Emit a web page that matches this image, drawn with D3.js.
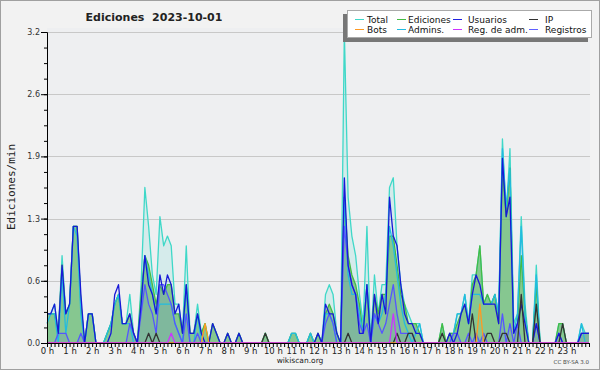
<!DOCTYPE html>
<html>
<head>
<meta charset="utf-8">
<script src="https://cdn.jsdelivr.net/npm/d3@7"></script>
<style>
  body { margin: 0; background: #f2f2f2; }
  text { font-family: "DejaVu Sans", sans-serif; fill: #222; }
</style>
</head>
<body>
<div id="chart"></div>
<script>
// edits per minute, one value per 10 minutes (00:00 .. 24:00)
var total = [
  0.3,0.3,0.4,0.1,0.9,0.3,0.4,1.2,1.2,0.4,0,0.3,
  0.3,0,0,0,0.1,0.2,0.4,0.5,0.2,0.2,0.5,0.1,
  0,0.6,1.6,1.2,0.7,0.5,1.3,1.0,1.1,1.0,0.4,0.4,
  0.1,1.0,0.1,0.1,0.4,0.1,0.2,0,0.2,0.1,0,0,
  0.1,0,0,0.1,0,0,0,0,0,0,0.1,0,
  0,0,0,0,0,0.1,0.1,0,0,0,0.1,0,
  0.1,0,0.5,0.6,0.5,0.1,0,3.2,1.5,1.1,0.9,0.5,
  0.2,1.2,0,0.7,0.3,0.6,0.6,1.6,1.7,1.0,0.6,0.4,
  0.3,0.2,0.2,0.2,0,0,0,0,0,0.2,0,0.1,
  0.1,0.3,0.3,0.5,0.2,0.7,0.7,1.0,0.4,0.5,0.4,0.5,
  0.3,2.1,1.3,2.0,0.2,0.3,1.3,0.4,0,0,0.8,0,
  0,0,0,0,0.2,0.2,0,0,0,0,0.2,0.1,
  0.1
];
var ediciones = [
  0.3,0.3,0.3,0.1,0.8,0.3,0.4,1.2,1.2,0.4,0,0.3,
  0.3,0,0,0,0.1,0.2,0.4,0.5,0.2,0.2,0.3,0.1,
  0,0.5,0.9,0.8,0.6,0.4,0.6,0.5,0.6,0.6,0.3,0.3,
  0.1,0.6,0.1,0.1,0.3,0.1,0.2,0,0.2,0.1,0,0,
  0.1,0,0,0.1,0,0,0,0,0,0,0.1,0,
  0,0,0,0,0,0.1,0.1,0,0,0,0.1,0,
  0.1,0,0.3,0.4,0.3,0.1,0,1.5,0.9,0.7,0.6,0.4,
  0.1,0.6,0,0.5,0.3,0.5,0.5,1.1,1.1,0.8,0.5,0.4,
  0.2,0.2,0.2,0.1,0,0,0,0,0,0.2,0,0.1,
  0.1,0.2,0.3,0.4,0.2,0.6,0.7,1.0,0.4,0.5,0.4,0.5,
  0.2,1.8,1.3,1.8,0.1,0.2,0.9,0.3,0,0,0.6,0,
  0,0,0,0,0.2,0.2,0,0,0,0,0.1,0.1,
  0.1
];
var usuarios = [
  0.3,0.3,0.4,0.1,0.8,0.3,0.4,1.2,1.2,0.5,0,0.3,
  0.3,0,0,0,0,0.1,0.5,0.6,0.2,0.2,0.3,0.1,
  0,0.4,0.9,0.6,0.5,0.3,0.7,0.5,0.7,0.6,0.3,0.4,
  0.1,0.6,0.1,0.1,0.3,0.1,0,0,0.2,0.1,0,0,
  0.1,0,0,0.1,0,0,0,0,0,0,0,0,
  0,0,0,0,0,0,0,0,0,0,0,0,
  0.1,0,0.4,0.3,0.3,0.1,0,1.7,0.8,0.6,0.5,0.1,
  0.1,0.6,0,0.5,0.2,0.5,0.3,1.5,1.1,1.0,0.6,0.3,
  0.2,0.2,0.1,0.1,0,0,0,0,0,0,0,0.1,
  0,0.1,0.3,0.4,0.2,0.5,0.7,0.6,0.4,0.4,0.4,0.4,
  0.2,1.9,1.3,1.5,0.1,0.2,0.4,0.2,0,0,0.2,0,
  0,0,0,0,0.1,0,0,0,0,0,0.1,0.1,
  0.1
];
var admins = [
  0.2,0.3,0.3,0,0.7,0.1,0.4,1.2,1.1,0.3,0,0.3,
  0.3,0,0,0,0.1,0.2,0.4,0.5,0.2,0.2,0.2,0,
  0,0.4,0.9,0.7,0.5,0.3,0.4,0.4,0.4,0.4,0.2,0.1,
  0,0.6,0,0,0.3,0,0,0,0,0,0,0,
  0,0,0,0,0,0,0,0,0,0,0,0,
  0,0,0,0,0,0.1,0.1,0,0,0,0.1,0,
  0,0,0.3,0.3,0.2,0,0,1.5,0.7,0.5,0.5,0.3,
  0.1,0.6,0,0.3,0.2,0.3,0.5,1.2,1.0,0.7,0.4,0.2,
  0.1,0,0.1,0.2,0,0,0,0,0,0,0,0,
  0.1,0.3,0.3,0.5,0.2,0.5,0.5,0.5,0.4,0.4,0.4,0.5,
  0.3,2.0,1.4,1.8,0.1,0.3,1.2,0.3,0,0,0.7,0,
  0,0,0,0,0,0,0,0,0,0,0.2,0,
  0
];
var registros = [
  0,0,0,0.1,0.1,0.1,0,0,0,0.1,0,0,
  0,0,0,0,0,0,0,0,0,0,0.2,0.1,
  0,0.3,0.6,0.4,0.3,0.1,0.6,0.6,0.5,0.4,0.2,0.1,
  0,0.3,0,0,0.1,0,0,0,0,0,0,0,
  0,0,0,0,0,0,0,0,0,0,0,0,
  0,0,0,0,0,0,0,0,0,0,0,0,
  0,0,0.2,0.3,0.2,0,0,1.2,0.8,0.6,0.5,0.2,
  0.1,0.2,0,0.3,0.2,0.1,0.2,0.4,0.6,0.3,0.1,0.1,
  0.1,0.1,0,0,0,0,0,0,0,0,0,0,
  0.1,0.1,0,0,0.1,0,0.1,0,0.1,0,0,0,
  0,0.3,0,0.2,0,0.2,0,0,0,0,0.2,0,
  0,0,0,0,0.1,0,0,0,0,0,0.1,0.1,
  0.1
];
var ip = [
  0,0,0,0,0,0,0,0,0,0,0,0,
  0,0,0,0,0,0,0,0,0,0,0,0,
  0,0,0,0.1,0,0.1,0,0,0,0,0,0,
  0,0,0,0,0,0,0,0,0,0,0,0,
  0,0,0,0,0,0,0,0,0,0,0.1,0,
  0,0,0,0,0,0,0,0,0,0,0,0,
  0,0,0,0,0,0,0,0,0.1,0,0,0,
  0,0,0,0,0,0,0,0,0,0.1,0,0,
  0.1,0.1,0,0,0,0,0,0,0,0.1,0,0,
  0,0,0,0,0,0.3,0,0,0,0.1,0.1,0,
  0,0.1,0.1,0,0,0,0.5,0,0,0,0.4,0,
  0,0,0,0,0,0.2,0,0,0,0,0,0,
  0
];
var bots = d3.range(145).map(function() { return 0; });
bots[42] = 0.2; bots[115] = 0.4;
var regAdm = d3.range(145).map(function() { return 0; });
regAdm[33] = 0.1; regAdm[92] = 0.3;

var yTicks = [0, 0.64, 1.28, 1.92, 2.56, 3.2];
var hourLabels = d3.range(24).map(function(h) { return h + ' h'; });

var legendNames = ['Total', 'Ediciones', 'Usuarios', 'IP', 'Bots', 'Admins.', 'Reg. de adm.', 'Registros'];
var legendColors = ['#3fd8c8', '#44bb44', '#2222e0', '#333333', '#ff9922', '#22bbe0', '#cc33ff', '#6060ff'];

var $svg = d3.select('#chart').append('svg')
    .attr('width', 600).attr('height', 370);

$svg.append('rect').attr('x', 0.5).attr('y', 0.5).attr('width', 599).attr('height', 369)
    .style('fill', '#f2f2f2').style('stroke', '#a0a0a0');

var x = d3.scaleLinear().domain([0, 144]).range([47, 589]);
var y = d3.scaleLinear().domain([0, 3.2]).range([343, 32]);

// plot background + grid
$svg.append('rect').attr('x', 47).attr('y', 28).attr('width', 543).attr('height', 315)
    .style('fill', '#eeeff1');
$svg.selectAll('line.grid').data(yTicks.slice(1)).enter().append('line')
    .attr('class', 'grid')
    .attr('x1', 47).attr('x2', 590)
    .attr('y1', function(d) { return Math.round(y(d)) + 0.5; })
    .attr('y2', function(d) { return Math.round(y(d)) + 0.5; })
    .style('stroke', '#c8c8c8');

var area = d3.area().x(function(d, i) { return x(i); }).y0(y(0)).y1(function(d) { return y(d); });
var line = d3.line().x(function(d, i) { return x(i); }).y(function(d) { return y(d); });

$svg.append('path').attr('d', area(total)).style('fill', 'rgba(63,216,200,0.14)');
$svg.append('path').attr('d', area(ediciones)).style('fill', 'rgba(70,170,70,0.55)');
$svg.append('path').attr('d', area(registros)).style('fill', 'rgba(80,80,255,0.12)');

var series = [
  [total, '#3fd8c8'],
  [ediciones, '#44bb44'],
  [admins, '#22bbe0'],
  [registros, '#5555ff'],
  [usuarios, '#1818d8'],
  [ip, '#333333'],
  [bots, '#ff9922'],
  [regAdm, '#cc33ff']
];
series.forEach(function(s) {
  $svg.append('path').attr('d', line(s[0]))
      .style('fill', 'none').style('stroke', s[1]).style('stroke-width', 1.3)
      .style('stroke-linejoin', 'round');
});

// y axis
var yAxis = $svg.append('g').attr('transform', 'translate(47,0)')
    .call(d3.axisLeft(y).tickValues(yTicks).tickFormat(d3.format('.1f')).tickSize(6).tickPadding(1).tickSizeOuter(0));
$svg.append('g').attr('transform', 'translate(47,0)')
    .call(d3.axisLeft(y).tickValues(d3.range(0, 3.21, 0.16)).tickFormat('').tickSize(3).tickSizeOuter(0));
yAxis.selectAll('text').style('font-size', '8px').style('fill', '#333');

// x axis
$svg.append('g').attr('transform', 'translate(0,343)')
    .call(d3.axisBottom(x).tickValues(d3.range(0, 145)).tickFormat('').tickSize(4).tickSizeOuter(0));
var xLab = $svg.append('g').attr('transform', 'translate(0,343)')
    .call(d3.axisBottom(x).tickValues(d3.range(0, 144, 6))
      .tickFormat(function(d) { return hourLabels[d / 6]; }).tickSize(0).tickPadding(5));
xLab.select('.domain').remove();
xLab.selectAll('text').style('font-size', '8.5px').style('fill', '#222');
$svg.selectAll('.domain').style('stroke', '#000');
$svg.selectAll('.tick line').style('stroke', '#000');

// titles
$svg.append('text').attr('x', 154).attr('y', 21).attr('text-anchor', 'middle')
    .style('white-space', 'pre')
    .style('font-size', '11px').style('font-weight', 'bold').text('Ediciones  2023-10-01');
$svg.append('text').attr('transform', 'translate(15,187) rotate(-90)').attr('text-anchor', 'middle')
    .style('font-family', '"DejaVu Sans Mono", monospace').style('font-size', '11px').text('Ediciones/min');
$svg.append('text').attr('x', 300).attr('y', 363).attr('text-anchor', 'middle')
    .style('font-size', '7.5px').text('wikiscan.org');
$svg.append('text').attr('x', 589).attr('y', 364).attr('text-anchor', 'end')
    .style('font-size', '5.5px').style('fill', '#444').text('CC BY-SA 3.0');

// legend
$svg.append('rect').attr('x', 343).attr('y', 14).attr('width', 245).attr('height', 28).style('fill', '#777');
$svg.append('rect').attr('x', 347.5).attr('y', 10.5).attr('width', 244).attr('height', 27)
    .style('fill', '#fff').style('stroke', '#aaa');
var swatchX = [355, 397, 453, 529];
var textX = [367, 408, 468, 545];
var $leg = $svg.selectAll('g.leg').data(legendNames).enter().append('g').attr('class', 'leg')
    .attr('transform', function(d, i) { return 'translate(0,' + (i < 4 ? 19 : 29) + ')'; });
$leg.append('line')
    .attr('x1', function(d, i) { return swatchX[i % 4]; })
    .attr('x2', function(d, i) { return swatchX[i % 4] + 9; })
    .attr('y1', 0.5).attr('y2', 0.5)
    .style('stroke', function(d, i) { return legendColors[i]; });
$leg.append('text')
    .attr('x', function(d, i) { return textX[i % 4]; })
    .attr('y', 3.5)
    .style('font-size', '9px').style('fill', '#111')
    .text(function(d) { return d; });
</script>
</body>
</html>
